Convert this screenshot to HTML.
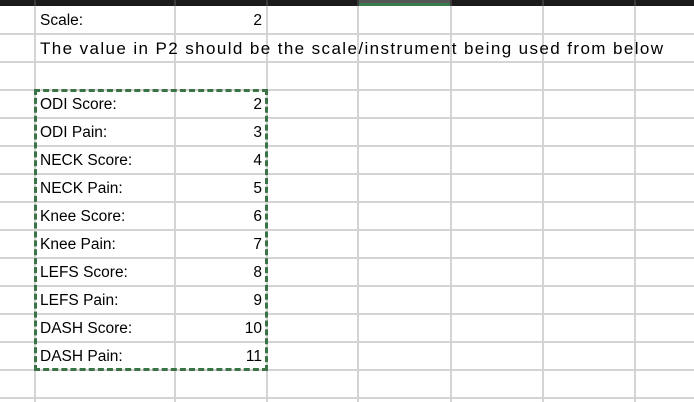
<!DOCTYPE html>
<html><head><meta charset="utf-8"><style>
html,body{margin:0;padding:0;background:#fff;}
body{width:694px;height:402px;position:relative;overflow:hidden;font-family:"Liberation Sans",sans-serif;font-size:15.5px;color:#000;}
.hdr{position:absolute;left:0;top:0;width:694px;height:6px;background:#1b1b1b;}
.hsep{position:absolute;top:0;width:2px;height:6px;background:#3a3a3a;}
.vl{position:absolute;top:6px;width:2px;height:396px;background:#d4d4d4;}
.hl{position:absolute;left:0;width:694px;height:2px;background:#d4d4d4;}
.cell{position:absolute;height:28px;line-height:28px;white-space:nowrap;}
.l{left:40px;}
.r{left:177px;width:85px;text-align:right;}
.sel{position:absolute;left:34px;top:89px;width:228px;height:276px;border:3px dashed #3a7345;}
.instr{font-size:17px;letter-spacing:1.4px;}
</style></head><body>
<div class="hdr"></div>
<div style="position:absolute;left:359px;top:0;width:92px;height:3px;background:#555;"></div>
<div style="position:absolute;left:359px;top:3px;width:92px;height:3px;background:#3a7a4f;"></div>
<div id="grid"></div>
<div class="sel"></div>
<div class="cell l" style="top:7px">Scale:</div>
<div class="cell r" style="top:7px">2</div>
<div class="cell l instr" style="top:35px">The value in P2 should be the scale/instrument being used from below</div>
<div id="rows"></div>
<script>
const cols=[35,175,267,358,451,543,635];
const g=document.getElementById('grid');
cols.forEach(x=>{const d=document.createElement('div');d.className='vl';d.style.left=(x-1)+'px';


g.appendChild(d);
const h=document.createElement('div');h.className='hsep';h.style.left=(x-1)+'px';


g.appendChild(h);});
for(let y=34;y<=398;y+=28){const d=document.createElement('div');d.className='hl';d.style.top=(y-1)+'px';


g.appendChild(d);}
const labels=["ODI Score:","ODI Pain:","NECK Score:","NECK Pain:","Knee Score:","Knee Pain:","LEFS Score:","LEFS Pain:","DASH Score:","DASH Pain:"];
const values=[2,3,4,5,6,7,8,9,10,11];
const r=document.getElementById('rows');
labels.forEach((t,i)=>{const top=91+i*28;
const a=document.createElement('div');a.className='cell l';a.style.top=top+'px';a.textContent=t;


r.appendChild(a);
const b=document.createElement('div');b.className='cell r';b.style.top=top+'px';b.textContent=values[i];


r.appendChild(b);});
</script>
</body></html>
